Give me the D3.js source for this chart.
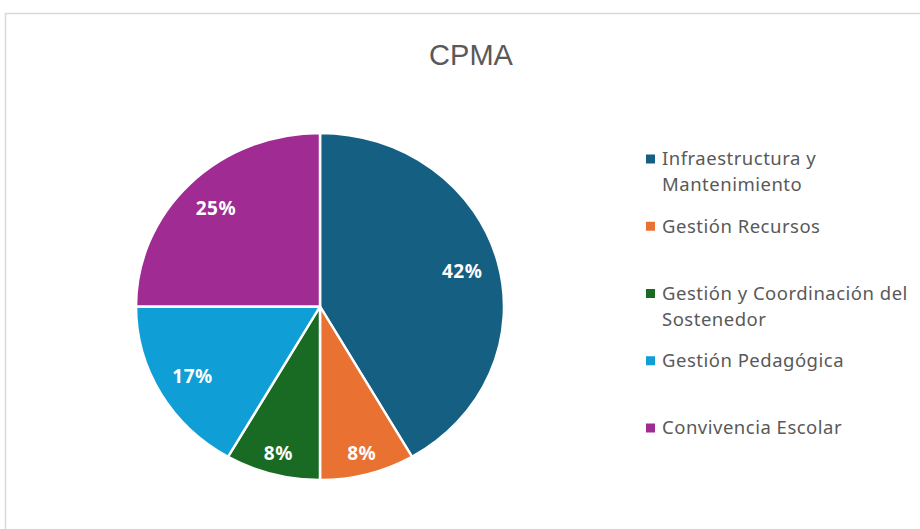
<!DOCTYPE html>
<html>
<head>
<meta charset="utf-8">
<script src="https://cdn.jsdelivr.net/npm/d3@7"></script>
<style>
  body { margin: 0; background: #fff; }
</style>
</head>
<body>
<div id="chart"></div>
<script>
const categories = [
    ["Infraestructura y", "Mantenimiento"],
    ["Gestión Recursos"],
    ["Gestión y Coordinación del", "Sostenedor"],
    ["Gestión Pedagógica"],
    ["Convivencia Escolar"]
];
const values = [5, 1, 1, 2, 3];
const colors = ["#156082", "#E97132", "#196B24", "#0F9ED5", "#A02B93"];
const title = "CPMA";

const width = 920, height = 529;
const cx = 320, cy = 306.5;
// the picture is slightly squashed vertically
const rx = 184, ry = 173.5;

const svg = d3.select("#chart")
    .append("svg")
    .attr("width", width)
    .attr("height", height);

// chart frame
svg.append("rect")
    .attr("x", 5.5)
    .attr("y", 13.5)
    .attr("width", 930)
    .attr("height", 530)
    .attr("fill", "#fff")
    .attr("stroke", "#d9d9d9")
    .attr("stroke-width", 1.5);

svg.append("text")
    .attr("x", 471)
    .attr("y", 65)
    .attr("text-anchor", "middle")
    .attr("font-family", "'Liberation Sans', Arial, sans-serif")
    .attr("font-size", 29)
    .attr("fill", "#595959")
    .text(title);

const total = d3.sum(values);
const pie = d3.pie().sort(null).value((d) => d);
const arcs = pie(values);
const arc = d3.arc().innerRadius(0).outerRadius(rx);

// small slices get their label pushed a bit further out (best fit)
function labelPos(d) {
    const share = d.value / total;
    const r = rx * (share < 0.1 ? 0.875 : 0.8);
    const [x, y] = d3.arc().innerRadius(r).outerRadius(r).centroid(d);
    return [x, y * ry / rx];
}

const g = svg.append("g")
    .attr("transform", "translate(" + cx + ", " + cy + ")");

g.append("g")
    .attr("transform", "scale(1, " + (ry / rx) + ")")
    .selectAll("path")
    .data(arcs)
    .enter()
    .append("path")
    .attr("d", arc)
    .attr("fill", (d, i) => colors[i])
    .attr("stroke", "#fff")
    .attr("stroke-width", 2.5)
    .attr("stroke-linejoin", "round");

g.selectAll("text.label")
    .data(arcs)
    .enter()
    .append("text")
    .attr("class", "label")
    .attr("transform", (d) => "translate(" + labelPos(d) + ")")
    .attr("text-anchor", "middle")
    .attr("dominant-baseline", "central")
    .attr("font-family", "'Noto Sans', sans-serif")
    .attr("font-weight", "bold")
    .attr("font-size", 19)
    .attr("letter-spacing", 0.5)
    .attr("fill", "#fff")
    .text((d) => Math.round(d.value / total * 100) + "%");

// legend
const legendY = d3.scalePoint()
    .domain(d3.range(categories.length))
    .range([159, 428]);

const legend = svg.append("g");
const items = legend.selectAll("g")
    .data(categories)
    .enter()
    .append("g")
    .attr("transform", (d, i) => "translate(646, " + legendY(i) + ")");

items.append("rect")
    .attr("x", 0)
    .attr("y", -4.5)
    .attr("width", 9)
    .attr("height", 9)
    .attr("fill", (d, i) => colors[i]);

items.append("text")
    .attr("font-family", "'Noto Sans', sans-serif")
    .attr("font-size", 18.5)
    .attr("letter-spacing", 0.5)
    .attr("fill", "#595959")
    .selectAll("tspan")
    .data((d) => d)
    .enter()
    .append("tspan")
    .attr("x", 16)
    .attr("y", (d, i) => i * 26)
    .attr("dy", "0.35em")
    .text((d) => d);
</script>
</body>
</html>
